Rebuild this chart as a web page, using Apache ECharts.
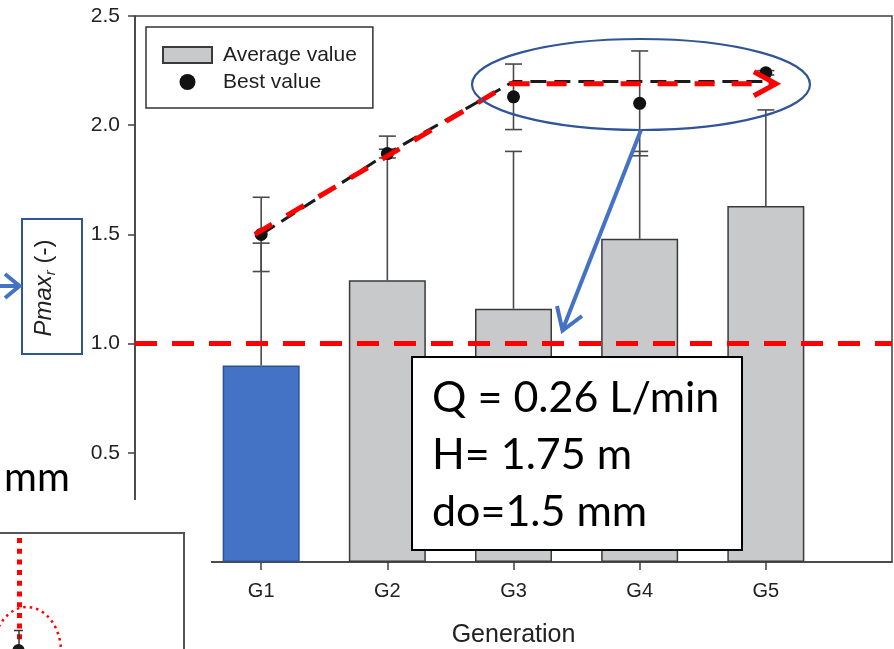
<!DOCTYPE html>
<html>
<head>
<meta charset="utf-8">
<script src="https://cdn.jsdelivr.net/npm/echarts@6/dist/echarts.min.js"></script>
<style>
  html, body { margin: 0; padding: 0; background: #fff; }
  #chart { width: 894px; height: 649px; }
</style>
</head>
<body>
<div id="chart"></div>
<script>
// Generations on the x axis (placed at 1..5 on a 0..6 scale)
const categories = ['G1', 'G2', 'G3', 'G4', 'G5'];
// Mean Pmax_r per generation and the top of its error bar
const avgValues = [0.90, 1.29, 1.16, 1.48, 1.63];
const avgUpper = [1.46, 1.95, 1.88, 1.88, 2.07];
// Best individual per generation and its +/- error
const bestValues = [1.50, 1.87, 2.13, 2.10, 2.24];
const bestErr = [0.17, 0.02, 0.15, 0.24, 0.01];
// Dashed trace of the best value reached so far
const bestTrace = [1.50, 1.87, 2.20, 2.20, 2.20];
// Red trend arrow (x in generation units, y in Pmax_r)
const trendX = [0.95, 2.97, 5.08];
const trendY = [1.50, 2.19, 2.19];
// Reference level
const referenceLevel = 1.0;
// Y axis tick values
const yTicks = [0, 0.5, 1.0, 1.5, 2.0, 2.5];
// Text of the operating-point box
const conditionLines = ['Q = 0.26 L/min', 'H= 1.75 m', 'do=1.5 mm'];

const AX = '#404040';
const BLUE = '#4472C4';
const RED = '#FF0000';
const LABEL_FONT = 'Liberation Sans';
const BOX_FONT = 'Lato';

const chart = echarts.init(document.getElementById('chart'), null, { renderer: 'canvas' });

const barData = categories.map((c, i) => {
  const item = { value: [i + 1, avgValues[i]] };
  if (i === 0) {
    item.itemStyle = { color: BLUE, borderColor: '#2F528F' };
  }
  return item;
});

const errData = categories.map((c, i) => [i + 1, avgValues[i], avgUpper[i], bestValues[i] - bestErr[i], bestValues[i] + bestErr[i]]);

function capLine(p, half) {
  return { type: 'line', shape: { x1: p[0] - half, y1: p[1], x2: p[0] + half, y2: p[1] } };
}

const option = {
  animation: false,
  backgroundColor: '#ffffff',
  grid: {
    left: 135, right: 2, top: 16, bottom: 87,
    show: true, borderColor: AX, borderWidth: 1.5,
    containLabel: false, outerBoundsMode: 'none'
  },
  legend: {
    orient: 'vertical',
    left: 146, top: 27,
    padding: [16, 16, 14, 16],
    itemGap: 3,
    itemWidth: 49, itemHeight: 16,
    itemTextGap: 12,
    borderColor: '#333', borderWidth: 1.5,
    textStyle: { fontFamily: LABEL_FONT, fontSize: 21, color: '#1f1f1f', lineHeight: 24, padding: [0, 0, 0, 6] },
    data: [{ name: 'Average value', icon: 'rect' }, { name: 'Best value', icon: 'circle' }]
  },
  xAxis: {
    type: 'value', min: 0, max: 6, interval: 1,
    splitLine: { show: false },
    axisLine: { show: true, lineStyle: { color: AX, width: 1.5 } },
    axisTick: { show: true, length: 8, lineStyle: { color: AX, width: 1.5 }, customValues: [1, 2, 3, 4, 5] },
    axisLabel: {
      margin: 19, color: '#222', fontFamily: LABEL_FONT, fontSize: 20,
      customValues: [1, 2, 3, 4, 5],
      formatter: v => categories[Math.round(v) - 1] || ''
    },
    name: 'Generation', nameLocation: 'middle', nameGap: 61,
    nameTextStyle: { color: '#222', fontFamily: LABEL_FONT, fontSize: 25 }
  },
  yAxis: {
    type: 'value', min: yTicks[0], max: yTicks[yTicks.length - 1], interval: 0.5,
    splitLine: { show: false },
    axisLine: { show: true, lineStyle: { color: AX, width: 1.5 } },
    axisTick: { show: true, length: 7, lineStyle: { color: AX, width: 1.5 } },
    axisLabel: {
      margin: 15, color: '#222', fontFamily: LABEL_FONT, fontSize: 21,
      formatter: v => v.toFixed(1)
    }
  },
  series: [
    {
      name: 'Average value', type: 'bar', barWidth: 77, z: 2,
      itemStyle: { color: '#C8C9CB', borderColor: '#3a3a3a', borderWidth: 1.5 },
      data: barData
    },
    {
      name: 'Error', type: 'custom', z: 3, silent: true,
      data: errData,
      renderItem: (params, api) => {
        const x = api.value(0);
        const a0 = api.coord([x, api.value(1)]);
        const a1 = api.coord([x, api.value(2)]);
        const b0 = api.coord([x, api.value(3)]);
        const b1 = api.coord([x, api.value(4)]);
        const st = { stroke: '#4a4a4a', lineWidth: 1.6, fill: null };
        const kids = [
          { type: 'line', shape: { x1: a0[0], y1: a0[1], x2: a1[0], y2: a1[1] } },
          capLine(a1, 8.5),
          { type: 'line', shape: { x1: b0[0], y1: b0[1], x2: b1[0], y2: b1[1] } },
          capLine(b0, 8.5),
          capLine(b1, 8.5)
        ];
        kids.forEach(k => { k.style = st; });
        return { type: 'group', children: kids };
      }
    },
    {
      name: 'Best value', type: 'scatter', z: 4,
      symbol: 'circle', symbolSize: 13,
      itemStyle: { color: '#111', opacity: 1 },
      data: categories.map((c, i) => [i + 1, bestValues[i]])
    },
    {
      name: 'Best so far', type: 'line', z: 5, symbol: 'none', silent: true,
      lineStyle: { color: '#1a1a1a', width: 3, type: [16, 8] },
      data: categories.map((c, i) => [i + 1, bestTrace[i]])
    },
    {
      name: 'Trend', type: 'line', z: 6, symbol: 'none', silent: true,
      lineStyle: { color: RED, width: 5, type: [20, 17] },
      data: trendX.map((x, i) => [x, trendY[i]]),
      markLine: {
        silent: true, symbol: 'none', animation: false,
        label: { show: false },
        lineStyle: { color: RED, width: 5, type: [22, 15] },
        data: [{ yAxis: referenceLevel }]
      }
    },
    {
      name: 'Trend head', type: 'custom', z: 6, silent: true,
      data: [[trendX[trendX.length - 1], trendY[trendY.length - 1]]],
      renderItem: (params, api) => {
        const p = api.coord([api.value(0), api.value(1)]);
        return {
          type: 'polyline',
          shape: { points: [[p[0] - 22, p[1] - 12], [p[0], p[1]], [p[0] - 22, p[1] + 12]] },
          style: { stroke: RED, lineWidth: 5, fill: null, lineJoin: 'miter' }
        };
      }
    }
  ],
  graphic: [
    // highlight ellipse round the last three best values
    { type: 'ellipse', z: 100, shape: { cx: 641, cy: 84.5, rx: 169, ry: 45.5 },
      style: { stroke: '#2F5597', lineWidth: 2.2, fill: null } },
    // arrow from the ellipse down to the reference level
    { type: 'line', z: 100, shape: { x1: 641, y1: 130, x2: 562.5, y2: 330 },
      style: { stroke: BLUE, lineWidth: 4 } },
    { type: 'polyline', z: 100, shape: { points: [[557, 306], [562.5, 330.5], [582, 316]] },
      style: { stroke: BLUE, lineWidth: 4, fill: null } },
    // operating point box
    { type: 'rect', z: 100, shape: { x: 412, y: 357, width: 330, height: 193 },
      style: { fill: '#fff', stroke: '#000', lineWidth: 2 } },
    { type: 'text', z: 101, x: 432, y: 398,
      style: { text: conditionLines[0], font: '43px ' + BOX_FONT, fill: '#000', verticalAlign: 'middle' } },
    { type: 'text', z: 101, x: 432, y: 455,
      style: { text: conditionLines[1], font: '43px ' + BOX_FONT, fill: '#000', verticalAlign: 'middle' } },
    { type: 'text', z: 101, x: 432, y: 512,
      style: { text: conditionLines[2], font: '43px ' + BOX_FONT, fill: '#000', verticalAlign: 'middle' } },
    // y axis title box
    { type: 'rect', z: 100, shape: { x: 22, y: 219, width: 60, height: 135 },
      style: { fill: '#fff', stroke: '#2F5597', lineWidth: 2 } },
    { type: 'text', z: 101, x: 44, y: 288, rotation: Math.PI / 2,
      style: {
        text: '{i|Pmax}{s|r}{n| (-)}',
        align: 'center', verticalAlign: 'middle',
        rich: {
          i: { fontFamily: LABEL_FONT, fontSize: 24, fontStyle: 'italic', fill: '#222', lineHeight: 28 },
          s: { fontFamily: LABEL_FONT, fontSize: 15, fontStyle: 'italic', fill: '#222', verticalAlign: 'bottom', lineHeight: 15 },
          n: { fontFamily: LABEL_FONT, fontSize: 24, fill: '#222', lineHeight: 28 }
        }
      } },
    // pointer into the y axis title
    { type: 'line', z: 100, shape: { x1: -5, y1: 286, x2: 19, y2: 286 },
      style: { stroke: BLUE, lineWidth: 4 } },
    { type: 'polyline', z: 100, shape: { points: [[5, 274], [19.5, 286], [5, 298]] },
      style: { stroke: BLUE, lineWidth: 4, fill: null } },
    // neighbouring panel pieces at the lower left
    { type: 'rect', z: 110, shape: { x: 0, y: 500, width: 211, height: 149 },
      style: { fill: '#fff' } },
    { type: 'text', z: 111, x: 4, y: 478,
      style: { text: 'mm', font: '40px ' + BOX_FONT, fill: '#000', verticalAlign: 'middle' } },
    { type: 'rect', z: 111, shape: { x: -10, y: 533, width: 194, height: 130 },
      style: { fill: '#fff', stroke: '#555', lineWidth: 2 } },
    { type: 'line', z: 112, shape: { x1: 19.5, y1: 538, x2: 19.5, y2: 652 },
      style: { stroke: RED, lineWidth: 5, lineDash: [5, 5.7] } },
    { type: 'ellipse', z: 112, shape: { cx: 27, cy: 652, rx: 34, ry: 45 },
      style: { stroke: RED, lineWidth: 2.5, lineDash: [2.5, 4], fill: null } },
    { type: 'line', z: 112, shape: { x1: 19, y1: 630.5, x2: 19, y2: 649 },
      style: { stroke: '#333', lineWidth: 1.5 } },
    { type: 'line', z: 112, shape: { x1: 14, y1: 630.5, x2: 23, y2: 630.5 },
      style: { stroke: '#333', lineWidth: 1.5 } },
    { type: 'circle', z: 112, shape: { cx: 18.5, cy: 650, r: 6 },
      style: { fill: '#1a1a1a' } }
  ]
};

chart.setOption(option);
</script>
</body>
</html>
